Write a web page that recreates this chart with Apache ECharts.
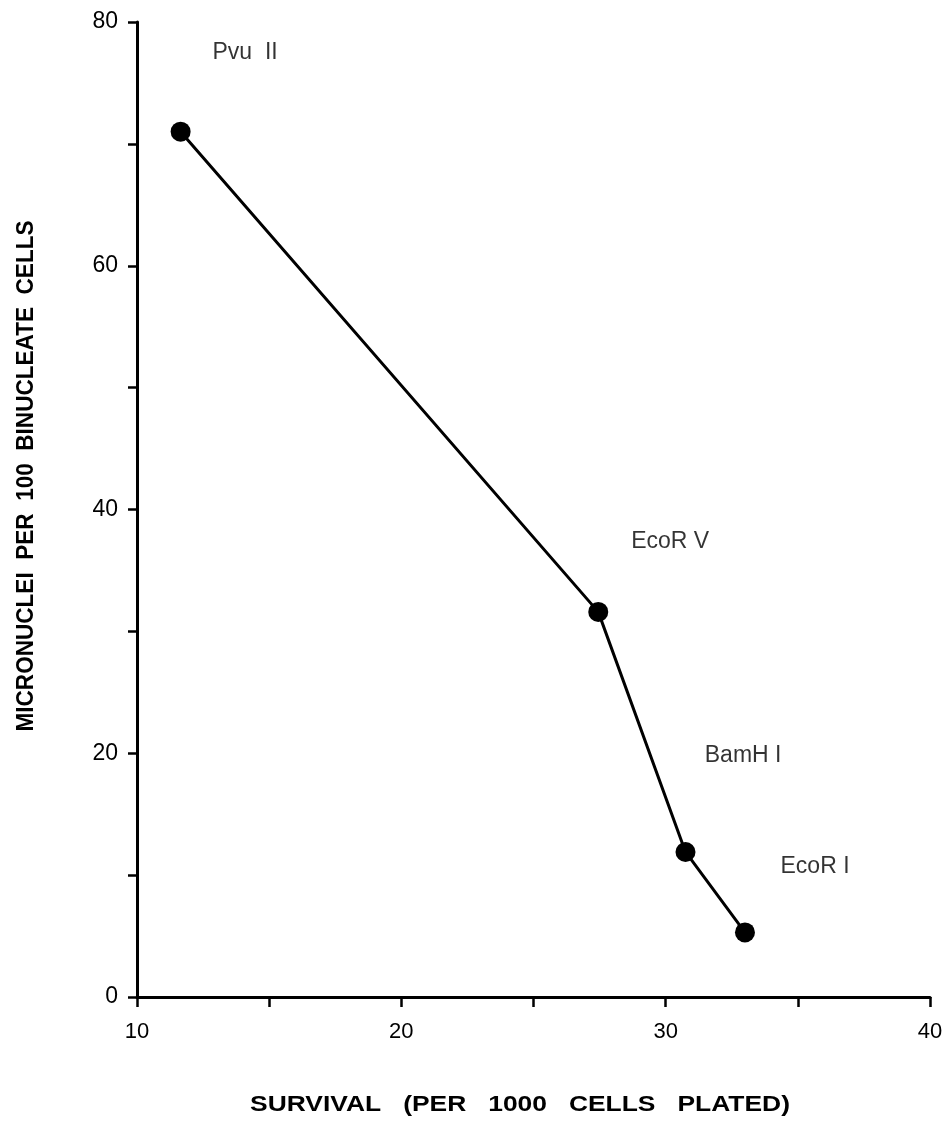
<!DOCTYPE html>
<html><head><meta charset="utf-8">
<script src="https://cdn.jsdelivr.net/npm/echarts@6/dist/echarts.min.js"></script>
<style>html,body{margin:0;padding:0;background:#fff}#c{width:950px;height:1124px}</style>
</head><body><div id="c"></div>
<script>
const survival = [11.65, 27.45, 30.75, 33.0];
const micronuclei = [71.0, 31.6, 11.9, 5.3];
const enzymeNames = ['Pvu  II', 'EcoR V', 'BamH I', 'EcoR I'];
const enzymeLabelX = [14.09, 30.17, 32.93, 35.65];
const enzymeLabelY = [77.5, 37.4, 19.8, 10.66];
const xTicks = [10, 20, 30, 40];
const yTicks = [0, 20, 40, 60, 80];
const xTitle = 'SURVIVAL   (PER   1000   CELLS   PLATED)';
const yTitle = 'MICRONUCLEI  PER  100  BINUCLEATE  CELLS';

const chart = echarts.init(document.getElementById('c'));
const ink = '#000';
chart.setOption({
  backgroundColor: '#fff',
  animation: false,
  grid: {left: 137, right: 20, top: 22, bottom: 127},
  xAxis: {
    type: 'value', min: 10, max: 40, interval: 5,
    axisLine: {lineStyle: {color: ink, width: 3}},
    axisTick: {show: true, length: 10, lineStyle: {color: ink, width: 2.5}},
    splitLine: {show: false},
    axisLabel: {color: ink, fontSize: 22, fontFamily: 'Liberation Sans', margin: 24,
      formatter: v => xTicks.includes(v) ? String(v) : ''}
  },
  yAxis: {
    type: 'value', min: 0, max: 80, interval: 10,
    axisLine: {lineStyle: {color: ink, width: 3}},
    axisTick: {show: true, length: 9, lineStyle: {color: ink, width: 2.5}},
    splitLine: {show: false},
    axisLabel: {color: ink, fontSize: 23, fontFamily: 'Liberation Sans', margin: 19,
      formatter: v => yTicks.includes(v) ? String(v) : ''}
  },
  graphic: [{
    type: 'text', x: 26, y: 476, rotation: Math.PI / 2, scaleX: 0.94,
    style: {text: yTitle, fill: ink,
      font: 'bold 24px "Liberation Sans"',
      textAlign: 'center', textVerticalAlign: 'middle'}
  }, {
    type: 'text', x: 520, y: 1105, scaleX: 1.2,
    style: {text: xTitle, fill: ink,
      font: 'bold 22px "Liberation Sans"',
      textAlign: 'center', textVerticalAlign: 'middle'}
  }],
  series: [{
    type: 'line',
    data: survival.map((x, i) => [x, micronuclei[i]]),
    symbol: 'circle', symbolSize: 20,
    lineStyle: {color: ink, width: 3},
    itemStyle: {color: ink},
    z: 3
  }, {
    type: 'scatter',
    data: enzymeLabelX.map((x, i) => ({value: [x, enzymeLabelY[i]], name: enzymeNames[i]})),
    symbolSize: 0,
    label: {show: true, position: 'inside', formatter: p => p.name,
      color: ink, fontSize: 23, fontFamily: 'Liberation Sans'}
  }]
});
</script></body></html>
